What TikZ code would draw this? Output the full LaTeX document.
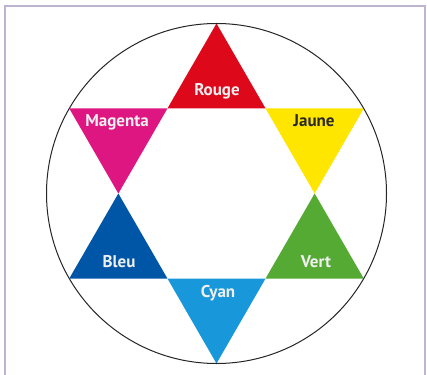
\documentclass[tikz,border=0pt]{standalone}
\usepackage{fontspec}
\setmainfont{PT Sans}
\definecolor{framec}{RGB}{190,180,210}
\definecolor{rouge}{RGB}{221,8,26}
\definecolor{magenta}{RGB}{222,22,130}
\definecolor{jaune}{RGB}{255,230,0}
\definecolor{vert}{RGB}{84,170,50}
\definecolor{bleu}{RGB}{0,86,166}
\definecolor{cyan}{RGB}{24,152,218}
\definecolor{txtdark}{RGB}{40,40,40}
\begin{document}
\begin{tikzpicture}[x=1pt,y=1pt,
  lbl/.style={font=\bfseries\fontsize{17}{17}\selectfont, inner sep=0pt, anchor=base},
  tri/.style={draw=none}]
\useasboundingbox (-216.5,-180.5) rectangle (210.5,193.5);
\fill[white] (-216.5,-180.5) rectangle (210.5,193.5);
\draw[framec, line width=1.5pt] (-211.5,-190) -- (-211.5,187.5) -- (208.5,187.5) -- (208.5,-190);
\def\R{170}
\def\r{98.15}
\foreach \a in {30,90,150,210,270,330} {\coordinate (T\a) at (\a:\R);}
\foreach \a in {0,60,120,180,240,300} {\coordinate (I\a) at (\a:\r);}
\fill[rouge] (T90) -- (I60) -- (I120) -- cycle;
\fill[jaune] (T30) -- (I0) -- (I60) -- cycle;
\fill[vert] (T330) -- (I300) -- (I0) -- cycle;
\fill[cyan] (T270) -- (I240) -- (I300) -- cycle;
\fill[bleu] (T210) -- (I180) -- (I240) -- cycle;
\fill[magenta] (T150) -- (I120) -- (I180) -- cycle;
\node[circle, draw=black!85, line width=1pt, minimum size=340pt, inner sep=0pt] (circ) at (0,0) {};
\node[lbl, text=white!94!black] (lr) at (0.5,97.5) {Rouge};
\node[lbl, text=white!94!black] (lm) at (-99.5,66.5) {Magenta};
\node[lbl, text=txtdark] (lj) at (97.5,66.5) {Jaune};
\node[lbl, text=white!94!black] (lb) at (-97.5,-73.5) {Bleu};
\node[lbl, text=white!94!black] (lv) at (99.5,-73.5) {Vert};
\node[lbl, text=white!94!black] (lc) at (1.5,-103.5) {Cyan};
\end{tikzpicture}
\end{document}
